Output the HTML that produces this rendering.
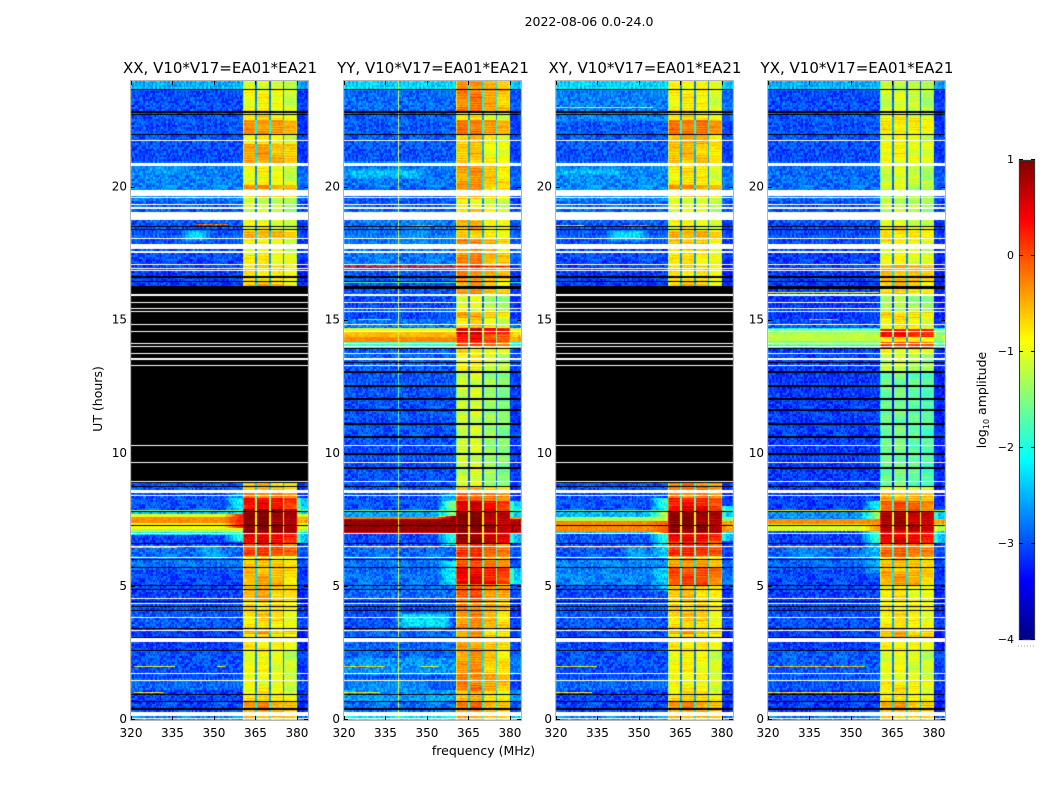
<!DOCTYPE html>
<html lang="en">
<head>
<meta charset="utf-8">
<title>2022-08-06 waterfall</title>
<style>
html,body{margin:0;padding:0;background:#fff;}
#stage{position:relative;width:1050px;height:800px;overflow:hidden;background:#fff;font-family:"DejaVu Sans","Liberation Sans",sans-serif;}
canvas{position:absolute;left:0;top:0;}
svg{position:absolute;left:0;top:0;}
text{font-family:"DejaVu Sans","Liberation Sans",sans-serif;fill:#000;}
</style>
</head>
<body>
<div id="stage">
<canvas id="cv" width="1050" height="800"></canvas>
<svg id="ov" width="1050" height="800" viewBox="0 0 1050 800">
<text x="589" y="26" font-size="12.5" text-anchor="middle">2022-08-06 0.0-24.0</text>
<text x="483.5" y="755" font-size="12.5" text-anchor="middle">frequency (MHz)</text>
<text transform="translate(102,399) rotate(-90)" font-size="12.5" text-anchor="middle">UT (hours)</text>
<text transform="translate(986,400) rotate(-90)" font-size="12.5" text-anchor="middle">log<tspan font-size="8" dy="3">10</tspan><tspan dy="-3"> amplitude</tspan></text>
<line x1="1018" y1="646" x2="1035" y2="646" stroke="#999" stroke-width="1" stroke-dasharray="1 2"/>
</svg>
</div>
<script>
// Tick labels
const xTicks = [320, 335, 350, 365, 380];
const yTicks = [0, 5, 10, 15, 20];
const cbarTicks = [1, 0, -1, -2, -3, -4];
const panelTitles = ["XX, V10*V17=EA01*EA21", "YY, V10*V17=EA01*EA21", "XY, V10*V17=EA01*EA21", "YX, V10*V17=EA01*EA21"];

// Grid: integrations (0.0375 h each) and channels (0.5 MHz each)
const rowCount = 640;
const channelCount = 128;

// Flagged integrations [firstRow, lastRow]
const whiteRows = [[1,1],[4,7],[39,39],[46,46],[78,81],[89,89],[102,102],[116,116],[121,121],[162,162],[173,173],[186,186],[224,224],[227,229],[238,238],[257,257],[274,274],[355,355],[361,362],[367,367],[374,374],[377,377],[389,389],[396,396],[409,409],[412,412],[418,418],[425,426],[450,450],[452,452],[456,456],[468,469],[472,476],[482,482],[501,508],[512,513],[516,516],[523,523],[525,530],[555,557],[580,580]];
const blackRows = [[10,11],[18,18],[25,25],[69,69],[82,82],[91,91],[109,109],[113,113],[118,118],[130,130],[134,134],[152,152],[160,160],[176,176],[194,194],[208,208],[233,233],[251,252],[265,266],[282,283],[295,296],[309,310],[321,322],[334,335],[348,349],[358,358],[372,372],[432,434],[439,439],[443,444],[491,491],[494,494],[586,586],[606,606],[608,609],[631,631]];
const xxBlackBlock = [237, 434];
const xyBlackBlock = [237, 434];

// log10 amplitude of the 360-380 MHz band by integration [firstRow, value]
const xxHighBand = [[0,-0.5],[11,-0.35],[19,-0.75],[29,-0.95],[69,-0.8],[86,-0.45],[90,-0.8],[99,-0.7],[119,-0.55],[134,-0.5],[144,-0.55],[155,-0.65],[164,0.05],[177,0.4],[182,0.45],[187,0.95],[211,0.35],[222,-0.2],[229,-0.6],[434,-0.45],[437,-0.75],[456,-0.85],[469,-0.9],[482,-0.5],[490,-0.95],[508,-1.15],[523,-0.6],[530,-1.0],[532,-0.35],[536,-0.9],[556,-0.5],[559,-0.45],[577,-0.85],[586,-0.35],[601,-0.8],[609,-0.9],[631,-1.1]];
const yyHighBand = [[0,-0.45],[11,-0.25],[19,-0.6],[29,-0.3],[47,-0.45],[76,-0.5],[91,-0.4],[109,-0.3],[121,-0.15],[136,0.6],[139,0.35],[153,-0.1],[162,0.05],[176,0.8],[188,0.95],[209,0.5],[219,-0.1],[229,-0.6],[234,-1.1],[239,-1.2],[349,-0.95],[367,-0.75],[374,0.05],[379,0.2],[387,0.55],[393,-0.7],[396,-0.8],[403,-0.5],[409,-1.1],[426,-0.4],[434,-0.5],[442,-0.3],[459,-0.35],[482,-0.7],[491,-0.6],[501,-0.7],[514,-0.95],[522,-0.55],[531,-0.45],[556,-0.7],[579,-0.65],[587,-0.25],[601,-0.9],[609,-0.3],[631,-0.4]];
const xyHighBand = [[0,-0.55],[11,-0.4],[19,-0.75],[29,-0.95],[69,-0.85],[86,-0.5],[90,-0.8],[99,-0.7],[119,-0.7],[134,-0.05],[152,-0.5],[164,0.1],[179,0.35],[186,0.88],[209,0.4],[214,0.15],[222,-0.3],[434,-0.6],[437,-0.8],[456,-0.85],[469,-0.7],[482,-0.55],[490,-0.95],[508,-1.1],[523,-0.7],[530,-1.05],[532,-0.4],[536,-0.85],[556,-0.65],[577,-0.55],[586,-0.25],[601,-0.85],[609,-0.9],[631,-0.95]];
const yxHighBand = [[0,-0.6],[11,-0.45],[19,-0.8],[39,-1.0],[69,-0.85],[82,-0.55],[91,-0.8],[121,-0.85],[134,-0.45],[149,-0.6],[162,-0.15],[176,0.45],[189,0.75],[209,-0.05],[219,-0.5],[228,-1.0],[234,-1.6],[349,-1.2],[367,-0.9],[373,0.1],[379,-0.8],[384,0.3],[392,-0.85],[403,-0.7],[409,-1.3],[426,-0.7],[434,-0.6],[439,-0.55],[449,-0.5],[457,-0.95],[479,-0.75],[494,-1.05],[501,-1.2],[534,-1.1],[559,-0.9],[579,-0.95],[589,-0.75],[604,-1.1],[631,-1.2]];

// log10 amplitude of the band outside 360-380 MHz by integration
const xxLowBand = [[0,-2.7],[8,-3.05],[30,-2.85],[40,-3.0],[69,-3.1],[90,-2.95],[113,-3.05],[150,-2.85],[175,-3.05],[185,-2.2],[188,-1.3],[191,-0.9],[197,-0.3],[203,-1.0],[206,-2.5],[208,-1.4],[210,-3.0],[237,-3.1],[461,-3.0],[480,-2.95],[520,-2.75],[556,-3.0],[631,-2.5]];
const yyLowBand = [[0,-2.2],[8,-2.85],[19,-2.55],[30,-2.95],[45,-2.65],[62,-2.9],[91,-3.0],[120,-2.85],[175,-3.0],[186,0.5],[188,0.88],[201,-0.2],[203,-2.6],[208,-1.5],[210,-3.0],[326,-2.95],[373,-1.9],[379,-0.3],[384,-0.55],[389,-0.9],[391,-1.1],[393,-2.8],[402,-3.0],[438,-1.9],[440,-2.95],[455,-2.8],[510,-2.95],[534,-2.8],[560,-2.95],[610,-2.85],[631,-2.3]];
const xyLowBand = [[0,-2.7],[8,-3.05],[30,-2.85],[40,-3.0],[69,-3.05],[90,-2.95],[113,-3.0],[134,-2.75],[160,-2.95],[186,-2.4],[188,-0.3],[198,-0.25],[199,-1.3],[203,-2.5],[208,-1.6],[210,-3.0],[237,-3.1],[461,-3.0],[480,-2.95],[500,-2.9],[520,-2.7],[556,-2.95],[600,-2.75],[631,-2.3]];
const yxLowBand = [[0,-2.8],[8,-3.1],[30,-2.95],[69,-3.1],[90,-3.0],[113,-3.05],[150,-2.9],[175,-3.05],[189,-1.05],[196,-0.3],[201,-2.7],[208,-0.8],[210,-3.1],[373,-2.0],[376,-1.5],[380,-1.2],[388,-1.45],[392,-2.0],[393,-3.0],[402,-3.1],[470,-3.0],[520,-2.85],[556,-3.0],[631,-2.5]];

// log10 amplitude of the 353-360 MHz shoulder by integration (null = no shoulder)
const xxShoulder = [[0,null],[178,-2.4],[179,-2.0],[192,0.2],[206,-2.2],[222,-2.6],[229,null]];
const yyShoulder = [[0,null],[134,-2.2],[159,null],[175,-2.0],[186,0.88],[204,-1.5],[219,-2.5],[229,null]];
const xyShoulder = [[0,null],[129,-2.4],[152,null],[162,-2.3],[174,-2.0],[187,-0.1],[199,-1.2],[209,-2.0],[222,null]];
const yxShoulder = [[0,null],[147,-2.6],[162,-2.4],[176,-1.9],[189,-0.4],[199,-1.4],[209,-2.2],[219,null]];

// Per-subband gain offsets for the four spectral windows
const xxSubband = [0, 0.05, -0.05, -0.2];
const yySubband = [0.05, 0.1, -0.15, -0.3];
const xySubband = [0.05, 0.1, 0.05, -0.15];
const yxSubband = [0, 0.05, -0.05, -0.15];

// Narrow RFI [row, startMHz, endMHz, value]
const xxRfi = [[456,321,355,0.3],[172,320,337,-0.6],[172,351,354,0.2],[53,321,336,-0.95],[53,351,354,-0.9],[27,321,332,-0.9],[496,343,355,-0.2]];
const yyRfi = [[454,320,380,0.4],[439,320,355,-1.2],[401,325,337,-1.5],[172,326,354,-0.1],[53,320,335,-0.7],[53,348,354,-1.0],[27,320,333,-0.9],[495,343,352,-0.3]];
const xyRfi = [[172,320,354,0.0],[53,320,335,-0.9],[27,320,333,-0.9],[456,320,355,0.3],[613,320,355,-0.8],[439,320,355,-1.0],[495,343,354,-0.2],[495,320,330,-0.8]];
const yxRfi = [[172,320,354,-0.1],[53,320,355,-0.6],[27,320,370,-0.8],[401,335,345,-0.5],[428,320,360,-1.1],[425,320,345,-1.2]];

// Diffuse emission patches [firstRow, lastRow, startMHz, endMHz, value]
const xxPatches = [[479,491,338,349,-2.3],[160,175,343,354,-2.55],[545,558,323,340,-2.6]];
const yyPatches = [[91,107,338,360,-2.25],[542,552,320,350,-2.4],[20,40,320,352,-2.65],[470,500,340,352,-2.65]];
const xyPatches = [[479,491,338,354,-2.3],[160,175,343,354,-2.55],[545,552,320,345,-2.4]];
const yxPatches = [[160,175,325,345,-2.75]];

// Persistent RFI channel in YY: channel index and amplitude
const yyRfiChannel = 39;
const yyRfiChannelValue = [[0,-1.0],[237,-1.7],[350,-1.1]];

// Fine channel-to-channel speckle (log10 offsets read from the noise floor)
const speckle = [0.12,-0.22,0.05,0.3,-0.14,-0.31,0.2,0.02,-0.08,0.26,-0.26,0.09,-0.18,0.33,-0.04,0.15,-0.28,0.07,0.22,-0.11,-0.35,0.28,0.0,-0.2,0.17,-0.06,0.36,-0.16,0.1,-0.3,0.24,-0.02,-0.24,0.13,0.04,-0.12,0.19];

// Sub-band layout
const subbandEdges = [360.5, 365.25, 370.25, 375.25, 380];
const notchChannels = [365.25, 370.25, 375.25];

// Axis functions
const panelLefts = [131, 344, 556, 768];
const panelWidth = 177;
const plotTop = 81, plotBottom = 720;
const fMin = 320, fMax = 384, hMax = 24;
function xOf(left, f){ return left + (f - fMin) / (fMax - fMin) * panelWidth; }
function yOf(h){ return plotBottom - h / hMax * (plotBottom - plotTop); }
function rowHour(r){ return r * hMax / rowCount; }
function chanFreq(c){ return fMin + (c + 0.5) * (fMax - fMin) / channelCount; }
const cbTop = 160, cbBottom = 640, cbLeft = 1019, cbRight = 1035;
function cbY(v){ return cbBottom - (v + 4) / 5 * (cbBottom - cbTop); }

function jet(t){
  t = Math.max(0, Math.min(1, t));
  const ch = (a) => Math.max(0, Math.min(1, 1.5 - Math.abs(4 * t - a)));
  return [Math.round(ch(3) * 255), Math.round(ch(2) * 255), Math.round(ch(1) * 255)];
}
const lut = [];
for (let i = 0; i < 256; i++) { const c = jet(i / 255); lut.push('rgb(' + c[0] + ',' + c[1] + ',' + c[2] + ')'); }
function colorOf(v){ return lut[Math.max(0, Math.min(255, Math.round((v + 4) / 5 * 255)))]; }

function expand(steps){
  const out = new Array(rowCount);
  let k = 0, cur = steps[0][1];
  for (let r = 0; r < rowCount; r++) {
    while (k < steps.length && steps[k][0] <= r) { cur = steps[k][1]; k++; }
    out[r] = cur;
  }
  return out;
}
function rowFlags(block){
  const f = new Uint8Array(rowCount);
  if (block) for (let r = block[0]; r <= block[1]; r++) f[r] = 1;
  blackRows.forEach(function(b){ for (let r = b[0]; r <= b[1]; r++) f[r] = 1; });
  whiteRows.forEach(function(b){ for (let r = b[0]; r <= b[1]; r++) f[r] = 2; });
  return f;
}
function subbandIndex(f){
  for (let i = 0; i < 4; i++) if (f < subbandEdges[i + 1]) return i;
  return 3;
}
function speck(c, sr){
  return speckle[(c * c * 3 + sr * sr * 7 + c * sr * 5 + c * 17 + sr * 29) % speckle.length];
}

const ctx = document.getElementById('cv').getContext('2d');
ctx.fillStyle = '#fff';
ctx.fillRect(0, 0, 1050, 800);

function drawPanel(left, high, low, shoulder, sub, rfi, patches, block, rfiChan, rfiChanVals){
  const H = expand(high), L = expand(low), S = expand(shoulder), flags = rowFlags(block);
  const chanVal = rfiChanVals ? expand(rfiChanVals) : null;
  const colX = [];
  for (let c = 0; c <= channelCount; c++) colX.push(Math.round(xOf(left, fMin + c * (fMax - fMin) / channelCount)));
  for (let r = 0; r < rowCount; r++) {
    const y0 = Math.round(yOf(rowHour(r + 1))), y1 = Math.round(yOf(rowHour(r)));
    if (y1 <= y0) continue;
    if (flags[r] === 2) { ctx.fillStyle = '#fff'; ctx.fillRect(colX[0], y0, panelWidth, y1 - y0); continue; }
    if (flags[r] === 1) { ctx.fillStyle = '#000'; ctx.fillRect(colX[0], y0, panelWidth, y1 - y0); continue; }
    const sr = r >> 1;
    for (let c = 0; c < channelCount; c++) {
      const f = chanFreq(c);
      const n = speck(c, sr);
      let v;
      if (f >= subbandEdges[0] && f < subbandEdges[4]) {
        const sb = subbandIndex(f);
        v = H[r] + sub[sb];
        if (f < 361) v -= 0.55;
        if (f > 379.5) v -= 0.25;
        v += speckle[(r * 11 + sb * 5) % speckle.length] * 0.55;
        for (let k = 0; k < notchChannels.length; k++) {
          if (Math.abs(f - notchChannels[k]) < 0.01) v = H[r] - 1.8;
        }
        v += n * 0.3;
      } else if (f >= subbandEdges[4]) {
        let base = L[r] - 0.1;
        if (H[r] > 0.2 && L[r] < -2) base = f < 381.5 ? -1.9 : -2.4;
        v = base + n * 0.75;
      } else {
        let base = L[r];
        if (S[r] !== null && f > 353) base = Math.max(base, L[r] + (S[r] - L[r]) * Math.min(1, (f - 353) / 6));
        v = base + n * (L[r] > -1.6 ? 0.35 : 1);
      }
      if (chanVal && c === rfiChan) v = chanVal[r];
      ctx.fillStyle = colorOf(v);
      ctx.fillRect(colX[c], y0, colX[c + 1] - colX[c], y1 - y0);
    }
  }
  patches.forEach(function(p){
    for (let r = p[0]; r <= p[1]; r++) {
      if (flags[r]) continue;
      const y0 = Math.round(yOf(rowHour(r + 1))), y1 = Math.round(yOf(rowHour(r)));
      for (let c = 0; c < channelCount; c++) {
        const f = chanFreq(c);
        if (f < p[2] || f > p[3] || (chanVal && c === rfiChan)) continue;
        const w = Math.min(1, (f - p[2]) / 4, (p[3] - f) / 4, (r - p[0] + 1) / 4, (p[1] - r + 1) / 4);
        if (w <= 0) continue;
        const n = speck(c, r >> 1);
        ctx.fillStyle = colorOf(L[r] + (p[4] - L[r]) * w + n * 0.85);
        ctx.fillRect(colX[c], y0, colX[c + 1] - colX[c], y1 - y0);
      }
    }
  });
  rfi.forEach(function(l){
    if (flags[l[0]]) return;
    const y0 = Math.round(yOf(rowHour(l[0] + 1))), y1 = Math.round(yOf(rowHour(l[0])));
    for (let c = 0; c < channelCount; c++) {
      const f = chanFreq(c);
      if (f < l[1] || f > l[2]) continue;
      const n = speckle[(c * 7) % speckle.length];
      ctx.fillStyle = colorOf(l[3] + n);
      ctx.fillRect(colX[c], y0, colX[c + 1] - colX[c], y1 - y0);
    }
  });
}

drawPanel(panelLefts[0], xxHighBand, xxLowBand, xxShoulder, xxSubband, xxRfi, xxPatches, xxBlackBlock, -1, null);
drawPanel(panelLefts[1], yyHighBand, yyLowBand, yyShoulder, yySubband, yyRfi, yyPatches, null, yyRfiChannel, yyRfiChannelValue);
drawPanel(panelLefts[2], xyHighBand, xyLowBand, xyShoulder, xySubband, xyRfi, xyPatches, xyBlackBlock, -1, null);
drawPanel(panelLefts[3], yxHighBand, yxLowBand, yxShoulder, yxSubband, yxRfi, yxPatches, null, -1, null);

// Colorbar
for (let y = cbTop; y < cbBottom; y++) {
  ctx.fillStyle = colorOf(1 - (y + 0.5 - cbTop) / (cbBottom - cbTop) * 5);
  ctx.fillRect(cbLeft, y, cbRight - cbLeft, 1);
}

// Annotations
const svg = document.getElementById('ov');
const NS = 'http://www.w3.org/2000/svg';
function line(x1, y1, x2, y2, color){
  const l = document.createElementNS(NS, 'line');
  l.setAttribute('x1', x1); l.setAttribute('y1', y1);
  l.setAttribute('x2', x2); l.setAttribute('y2', y2);
  l.setAttribute('stroke', color);
  l.setAttribute('stroke-width', 1);
  svg.appendChild(l);
  return l;
}
function label(x, y, txt, anchor, size){
  const t = document.createElementNS(NS, 'text');
  t.setAttribute('x', x); t.setAttribute('y', y);
  t.setAttribute('text-anchor', anchor);
  t.setAttribute('font-size', size);
  t.textContent = txt;
  svg.appendChild(t);
  return t;
}

panelLefts.forEach(function(left, i){
  const frame = document.createElementNS(NS, 'rect');
  frame.setAttribute('x', left - 0.5);
  frame.setAttribute('y', plotTop - 0.5);
  frame.setAttribute('width', panelWidth + 1);
  frame.setAttribute('height', plotBottom - plotTop + 1);
  frame.setAttribute('fill', 'none');
  frame.setAttribute('stroke', '#b4b4b4');
  
  
  svg.appendChild(frame);

  const title = label(left + panelWidth / 2 + 0.5, 73, panelTitles[i], 'middle', 15);
  
  

  xTicks.forEach(function(v){
    const x = Math.round(xOf(left, v)) + 0.5;
    const t1 = line(x, plotBottom, x, plotBottom - 4, '#000');
    
    
    const t2 = line(x, plotTop, x, plotTop + 4, '#000');
    
    
    const t = label(xOf(left, v), 737, String(v), 'middle', 12);
    
    
  });
  yTicks.forEach(function(v){
    const y = Math.round(yOf(v)) - 0.5;
    const t1 = line(left, y, left + 4, y, '#000');
    
    
    const t2 = line(left + panelWidth, y, left + panelWidth - 4, y, '#000');
    
    
    const t = label(left - 4, yOf(v) + 3, String(v), 'end', 12);
    
    
  });
});

const cbFrame = document.createElementNS(NS, 'rect');
cbFrame.setAttribute('x', cbLeft + 0.5);
cbFrame.setAttribute('y', cbTop + 0.5);
cbFrame.setAttribute('width', cbRight - cbLeft - 1);
cbFrame.setAttribute('height', cbBottom - cbTop - 1);
cbFrame.setAttribute('fill', 'none');
cbFrame.setAttribute('stroke', '#333');


svg.appendChild(cbFrame);

cbarTicks.forEach(function(v){
  const y = Math.round(cbY(v)) - 0.5;
  const t1 = line(cbLeft, y, cbLeft + 4, y, '#000');
  
  
  const t2 = line(cbRight, y, cbRight - 4, y, '#000');
  
  
  const t = label(1014, cbY(v) + 3, v < 0 ? '\u2212' + (-v) : String(v), 'end', 11);
  
  
});
</script>
</body>
</html>
